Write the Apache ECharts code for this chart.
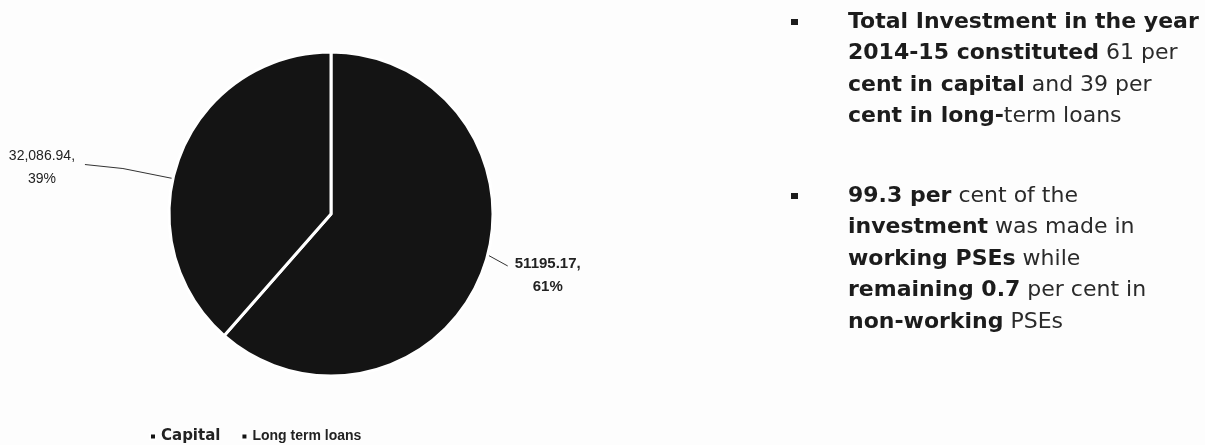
<!DOCTYPE html>
<html>
<head>
<meta charset="utf-8">
<script src="https://cdn.jsdelivr.net/npm/echarts@6/dist/echarts.min.js"></script>
<style>
  html, body { margin: 0; padding: 0; background: #fdfdfd; }
  #chart { width: 1205px; height: 445px; }
</style>
</head>
<body>
<div id="chart"></div>
<script>
// Investment composition, 2014-15
const categories = ['Capital', 'Long term loans'];
const values = [51195.17, 32086.94];
const groupDigits = [false, true];   // how each value is printed in its label

// Notes shown beside the pie: each line is a list of [text, bold]
const notes = [
  [
    [['Total Investment in the year', true]],
    [['2014-15 constituted', true], [' 61 per', false]],
    [['cent in capital', true], [' and 39 per', false]],
    [['cent in long-', true], ['term loans', false]]
  ],
  [
    [['99.3 per', true], [' cent of the', false]],
    [['investment', true], [' was made in', false]],
    [['working PSEs', true], [' while', false]],
    [['remaining 0.7', true], [' per cent in', false]],
    [['non-working', true], [' PSEs', false]]
  ]
];

const total = values.reduce((a, b) => a + b, 0);
const fmt = (v, group) => group
  ? v.toLocaleString('en-US', { minimumFractionDigits: 2, maximumFractionDigits: 2 })
  : v.toFixed(2);

const pieData = categories.map((name, i) => ({ name, value: values[i] }));

const FONT = '"Liberation Sans", Arial, sans-serif';
const NOTE_FONT = '"DejaVu Sans", "Liberation Sans", sans-serif';
const INK = '#1c1c1c';

const PIE_CENTER = [331, 214];
const PIE_R = 162;

// Right-hand notes as rich text lines
const graphics = [];
const noteX = 848, bulletX = 791;
const lineGap = 31.5;
const blockTops = [22, 196];
notes.forEach((block, bi) => {
  const top = blockTops[bi];
  graphics.push({
    type: 'rect',
    shape: { x: bulletX, y: top - 3, width: 7, height: 6 },
    style: { fill: INK }
  });
  block.forEach((line, li) => {
    const text = line.map(([t, b]) => '{' + (b ? 'b' : 'n') + '|' + t + '}').join('');
    graphics.push({
      type: 'text',
      x: noteX,
      y: top + li * lineGap,
      style: {
        text,
        verticalAlign: 'middle',
        fill: INK,
        rich: {
          b: { fontFamily: NOTE_FONT, fontSize: 22, fontWeight: 'bold', fill: INK },
          n: { fontFamily: NOTE_FONT, fontSize: 22, fontWeight: 'normal', fill: '#2a2a2a' }
        }
      }
    });
  });
});

// Leader lines: slide the anchor along the rim a little, then run out to the label
const labelTweak = [
  { turn: 6, out: [[20, 11]], textDx: 40, textDy: 9 },                 // Capital, right side
  { turn: 8, out: [[-50, -10], [-88, -14]], textDx: -43, textDy: 3 }   // Long term loans, left side
];

function layoutLabel(p) {
  const t = labelTweak[p.dataIndex];
  const p0 = p.labelLinePoints[0];
  const cx = PIE_CENTER[0], cy = PIE_CENTER[1];
  const a = Math.atan2(-(p0[1] - cy), p0[0] - cx) + t.turn * Math.PI / 180;
  const rim = [cx + PIE_R * Math.cos(a), cy - PIE_R * Math.sin(a)];
  const pts = [rim].concat(t.out.map(d => [rim[0] + d[0], rim[1] + d[1]]));
  const end = pts[pts.length - 1];
  return {
    x: end[0] + t.textDx,
    y: end[1] + t.textDy,
    align: 'center',
    verticalAlign: 'middle',
    labelLinePoints: pts
  };
}

const chart = echarts.init(document.getElementById('chart'), null, { renderer: 'canvas' });
chart.setOption({
  backgroundColor: '#fdfdfd',
  animation: false,
  color: ['#141414', '#141414'],
  legend: {
    data: [
      { name: categories[0], textStyle: { fontFamily: NOTE_FONT, fontSize: 15, fontWeight: 'bold' } },
      { name: categories[1], textStyle: { fontFamily: FONT, fontSize: 14, fontWeight: 'bold' } }
    ],
    left: 144,
    top: 424,
    icon: 'rect',
    itemWidth: 6,
    itemHeight: 6,
    itemGap: 20,
    textStyle: { color: '#222', padding: [0, 0, 0, 0] }
  },
  graphic: graphics,
  series: [{
    type: 'pie',
    center: PIE_CENTER,
    radius: PIE_R,
    startAngle: 90,
    clockwise: true,
    itemStyle: { borderColor: '#ffffff', borderWidth: 3 },
    label: {
      show: true,
      position: 'outside',
      fontFamily: FONT,
      fontSize: 14,
      color: '#222',
      lineHeight: 23,
      align: 'center',
      formatter: p => {
        const i = p.dataIndex;
        return fmt(values[i], groupDigits[i]) + ',\n' + Math.round(values[i] / total * 100) + '%';
      }
    },
    labelLine: {
      show: true,
      length: 12,
      length2: 20,
      lineStyle: { color: '#333', width: 1 }
    },
    labelLayout: layoutLabel,
    emphasis: { disabled: true },
    data: pieData.map((d, i) => i === 0
      ? Object.assign({}, d, { label: { fontSize: 15, fontWeight: 'bold' } })
      : d)
  }]
});
</script>
</body>
</html>
